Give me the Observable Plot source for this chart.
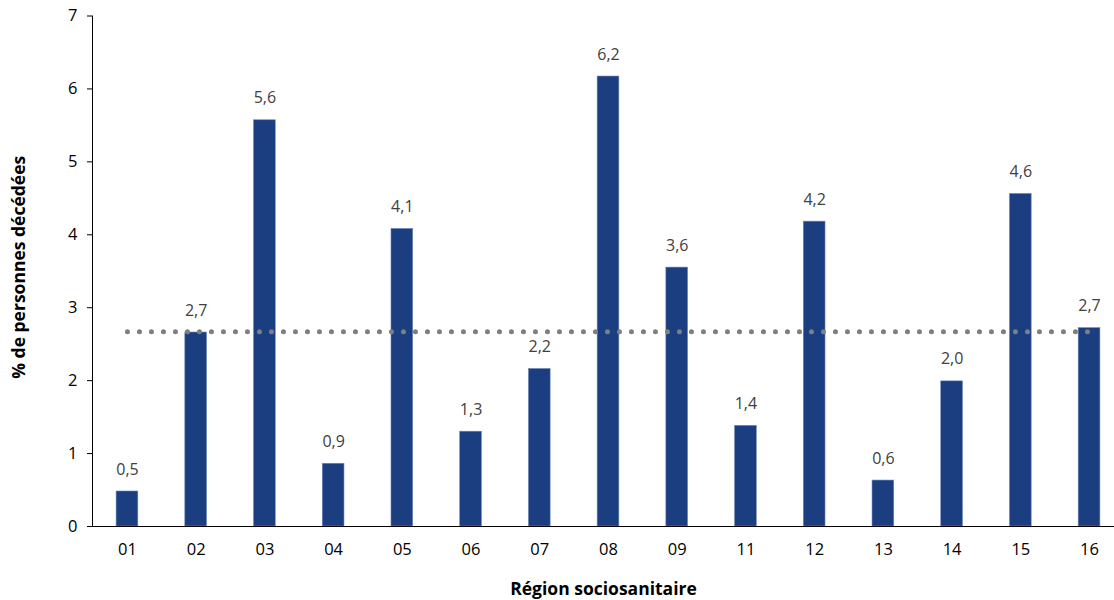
<!DOCTYPE html>
<html>
<head>
<meta charset="utf-8">
<script src="https://cdn.jsdelivr.net/npm/d3@7"></script>
<script src="https://cdn.jsdelivr.net/npm/@observablehq/plot@0.6"></script>
<style>
  html, body { margin: 0; padding: 0; background: #fff; }
  svg { display: block; }
</style>
</head>
<body>
<div id="chart"></div>
<script>
const regions = ["01","02","03","04","05","06","07","08","09","11","12","13","14","15","16"];
const values  = [0.48, 2.66, 5.57, 0.86, 4.08, 1.30, 2.16, 6.17, 3.55, 1.38, 4.18, 0.63, 1.99, 4.56, 2.72];
const valueLabels = ["0,5","2,7","5,6","0,9","4,1","1,3","2,2","6,2","3,6","1,4","4,2","0,6","2,0","4,6","2,7"];
const moyenne = 2.67;
const yTicks = [0,1,2,3,4,5,6,7];
const xTitle = "Région sociosanitaire";
const yTitle = "% de personnes décédées";

const data = regions.map((r, i) => ({region: r, value: values[i], label: valueLabels[i]}));
const avgLine = [{region: regions[0], value: moyenne}, {region: regions[regions.length - 1], value: moyenne}];

const font = "'Open Sans', sans-serif";

const chart = Plot.plot({
  width: 1114,
  height: 600,
  marginLeft: 92,
  marginRight: 0,
  marginTop: 15.5,
  marginBottom: 74,
  style: {fontFamily: font, fontSize: "16px", color: "#000", background: "#fff"},
  x: {domain: regions, range: [92.6, 1123.4], padding: 0, round: false},
  y: {domain: [0, 7]},
  marks: [
    Plot.barY(data, {x: "region", y: "value", fill: "#1b3e80", stroke: "#6f86b8", strokeWidth: 0.6, insetLeft: 23.5, insetRight: 23.5}),
    Plot.lineY(avgLine, {x: "region", y: "value", stroke: "#7f7f7f", strokeWidth: 5, strokeDasharray: "0,12", strokeLinecap: "round"}),
    Plot.text(data, {x: "region", y: "value", text: "label", dy: -22, fill: "#404040", fontSize: 16}),
    Plot.axisY({ticks: yTicks, tickSize: 5, tickPadding: 10, tickFormat: d => String(d), label: null, fontSize: 16.5, stroke: "#000"}),
    Plot.axisX({tickSize: 0, tickPadding: 17, label: null, fontSize: 16.5}),
    Plot.frame({anchor: "left", stroke: "#000"}),
    Plot.frame({anchor: "bottom", stroke: "#000"}),
    Plot.text([xTitle], {frameAnchor: "bottom", textAnchor: "middle", lineAnchor: "middle", dy: 63, fontWeight: "bold", fontSize: 17.5, fill: "#000"}),
    Plot.text([yTitle], {frameAnchor: "left", textAnchor: "middle", lineAnchor: "middle", dx: -73, dy: -4, rotate: -90, fontWeight: "bold", fontSize: 17.5, fill: "#000"})
  ]
});
document.getElementById("chart").appendChild(chart);
</script>
</body>
</html>
